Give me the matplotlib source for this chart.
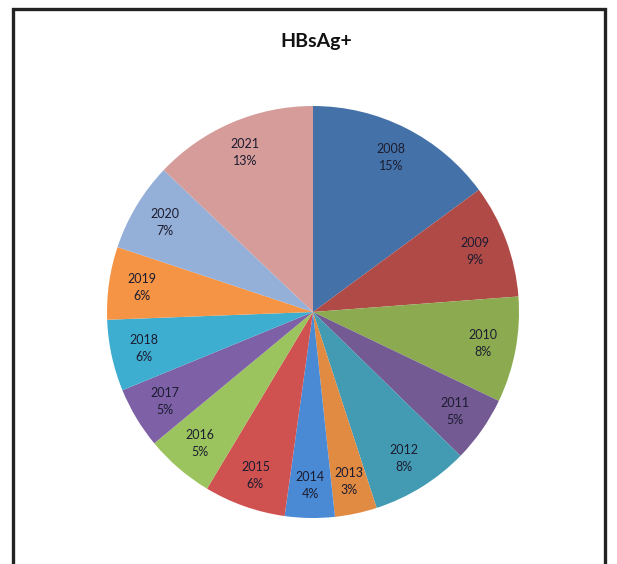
import matplotlib.pyplot as plt
from matplotlib.patches import Rectangle

# share per year (%)
years = ["2008", "2009", "2010", "2011", "2012", "2013", "2014",
         "2015", "2016", "2017", "2018", "2019", "2020", "2021"]
shares = [14.9, 8.9, 8.3, 5.2, 7.7, 3.3, 3.9, 6.4, 5.4, 4.8, 5.6, 5.7, 7.0, 12.9]
colors = ["#4472A8", "#B04A47", "#8CAB50", "#735A93", "#439BB3", "#E08A42",
          "#4A8AD4", "#D05250", "#9CC45E", "#7D60A6", "#3EAED0", "#F59445",
          "#95B0D8", "#D59C9A"]

plt.rcParams['font.family'] = ['Lato', 'DejaVu Sans']

fig = plt.figure(figsize=(6.17, 5.64), dpi=100)

# outer frame (bottom edge runs off the picture)
fig.patches.append(Rectangle((13 / 617, -0.05), 592 / 617, 1.05 - 9 / 564,
                             transform=fig.transFigure, fill=False,
                             edgecolor="#222222", linewidth=2.4))

fig.text(0.512, 1 - 42 / 564, "HBsAg+", ha="center", va="center",
         fontsize=14, fontweight="bold", color="#111111")

ax = fig.add_axes([107 / 617, 46 / 564, 412 / 617, 412 / 564])
labels = ["%s\n%.0f%%" % (y, s) for y, s in zip(years, shares)]
wedges, texts = ax.pie(shares, colors=colors, labels=labels, startangle=90,
                       counterclock=False, labeldistance=0.84,
                       wedgeprops=dict(linewidth=0))
for t in texts:
    t.set_horizontalalignment("center")
    t.set_verticalalignment("center")
    t.set_fontsize(9)
    t.set_color("#1c1c30")
    t.set_linespacing(1.5)
ax.set_xlim(-1, 1)
ax.set_ylim(-1, 1)
ax.set_aspect("equal")

fig.savefig("out.png", dpi=100)
